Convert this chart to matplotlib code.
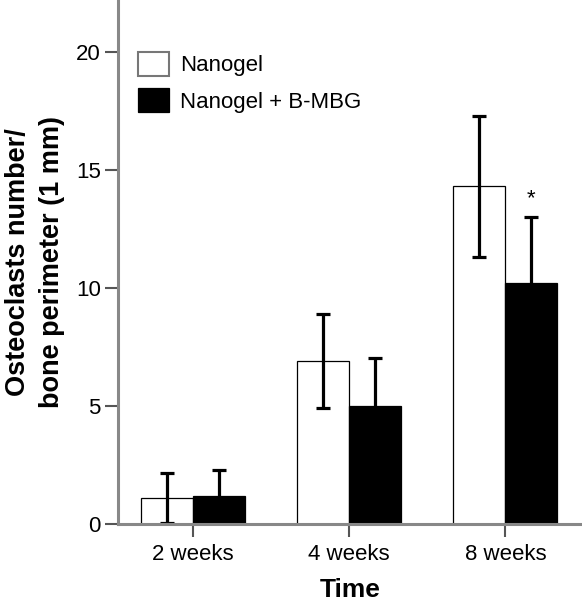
import numpy as np
import matplotlib.pyplot as plt

plt.rcParams['font.family'] = ['Liberation Sans', 'DejaVu Sans']

weeks = ["2 weeks", "4 weeks", "8 weeks"]
nanogel = [1.1, 6.9, 14.3]
nanogel_err = [1.05, 2.0, 3.0]
mbg = [1.2, 5.0, 10.2]
mbg_err = [1.1, 2.05, 2.8]

fig = plt.figure(figsize=(5.82, 6.02), dpi=100)
ax = fig.add_axes([118 / 582, 78 / 602, 1 - 118 / 582, 1 - 78 / 602])

x = np.arange(len(weeks))
w = 0.333
ebar = dict(ecolor="black", elinewidth=2.3, capsize=4.8, capthick=2.3)

ax.bar(x - w / 2, nanogel, w, color="white", edgecolor="black", linewidth=0.9,
       yerr=nanogel_err, error_kw=ebar, label="Nanogel", zorder=2)
ax.bar(x + w / 2, mbg, w, color="black", edgecolor="black", linewidth=0.9,
       yerr=mbg_err, error_kw=ebar, label="Nanogel + B-MBG", zorder=2)

# significance marker
ax.text(x[2] + w / 2, mbg[2] + mbg_err[2] + 0.35, "*", ha="center", va="bottom",
        fontsize=16)

ax.set_xlim(-0.48, 2.49)
ax.set_ylim(0, 22.2)
ax.set_yticks([0, 5, 10, 15, 20])
ax.set_xticks(x)
ax.set_xticklabels(weeks)

for s in ["top", "right"]:
    ax.spines[s].set_visible(False)
for s in ["left", "bottom"]:
    ax.spines[s].set_color("#888888")
    ax.spines[s].set_linewidth(2.2)
ax.tick_params(axis="both", colors="#555555", labelcolor="black", length=9.5,
               width=1.5, labelsize=16)
ax.tick_params(axis="x", pad=5)
ax.tick_params(axis="y", pad=3)

ax.set_xlabel("Time", fontsize=19, fontweight="bold", labelpad=9)
ax.set_ylabel("Osteoclasts number/\nbone perimeter (1 mm)", fontsize=19.5,
              fontweight="bold", labelpad=8, linespacing=1.4)

leg = ax.legend(loc="upper left", bbox_to_anchor=(138 / 582, 1 - 52 / 602),
                bbox_transform=fig.transFigure, frameon=False, fontsize=16,
                handlelength=1.4, handleheight=1.25, handletextpad=0.5,
                labelspacing=0.55, borderpad=0, borderaxespad=0)
leg.legend_handles[0].set_edgecolor("#777777")
leg.legend_handles[0].set_linewidth(1.5)

fig.savefig("out.png", dpi=100)
